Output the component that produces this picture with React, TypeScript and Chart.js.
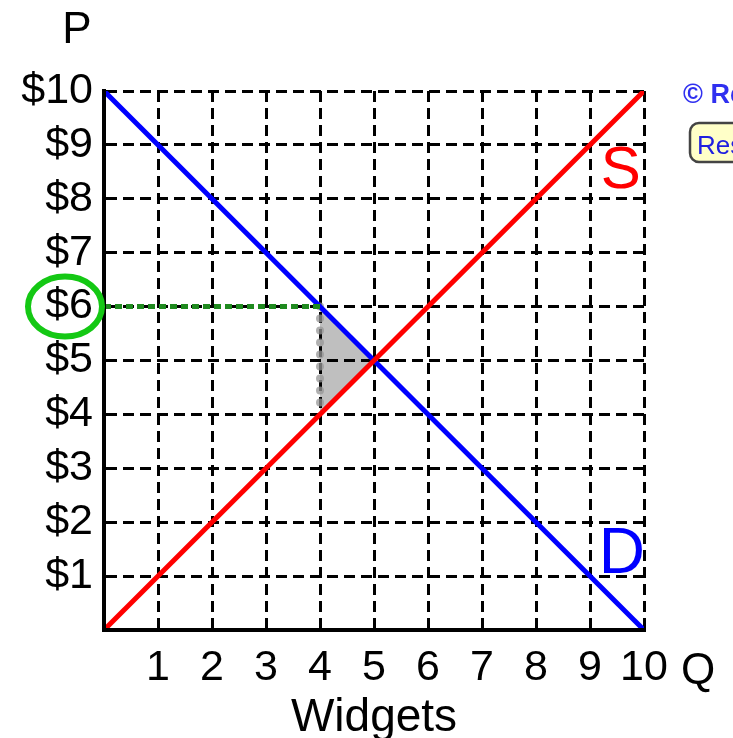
import { useEffect, useRef } from 'react';
import { Chart, registerables } from 'chart.js';

Chart.register(...registerables);

const FONT = '"Liberation Sans", Arial, sans-serif';

// Quantity axis (Widgets) and price axis
const quantityTicks = [0, 1, 2, 3, 4, 5, 6, 7, 8, 9, 10];
const priceTicks = [0, 1, 2, 3, 4, 5, 6, 7, 8, 9, 10];

// Supply curve S
const supplyQ = [0, 10];
const supplyP = [0, 10];

// Demand curve D
const demandQ = [0, 10];
const demandP = [10, 0];

// Dotted price line at $6
const priceLineQ = [0, 4];
const priceLineP = [6, 6];

// Dotted quantity line at Q = 4
const qtyLineQ = [4, 4];
const qtyLineP = [6, 4];

// Deadweight loss triangle
const dwlQ = [4, 5, 4, 4];
const dwlP = [6, 5, 4, 6];

const circledPrice = 6;

const pts = (xs: number[], ys: number[]) => xs.map((x, i) => ({ x, y: ys[i] }));

const annotationPlugin = {
  id: 'annotations',
  afterDraw(chart: any) {
    const { ctx } = chart;
    const x = chart.scales.x;
    const y = chart.scales.y;
    ctx.save();

    // green circle around the $6 label
    const ey = y.getPixelForValue(circledPrice);
    ctx.beginPath();
    ctx.ellipse(x.left - 39, ey, 37, 30, 0, 0, Math.PI * 2);
    ctx.lineWidth = 6;
    ctx.strokeStyle = '#14c814';
    ctx.stroke();

    ctx.textBaseline = 'alphabetic';
    ctx.textAlign = 'center';
    ctx.fillStyle = '#000';
    ctx.font = `44px ${FONT}`;
    ctx.fillText('P', x.left - 27, y.top - 48);
    ctx.fillText('Q', x.right + 54, x.top + 54);

    // curve labels
    ctx.fillStyle = '#ff0000';
    ctx.font = `60px ${FONT}`;
    ctx.fillText('S', x.getPixelForValue(9.57), y.getPixelForValue(8.6) + 22);
    ctx.fillStyle = '#0000ff';
    ctx.font = `64px ${FONT}`;
    ctx.fillText('D', x.getPixelForValue(9.59), y.getPixelForValue(1.5) + 24);

    // copyright text and button
    ctx.textAlign = 'left';
    ctx.fillStyle = '#3030f0';
    ctx.font = `bold 27px ${FONT}`;
    ctx.fillText('\u00a9 Re', x.right + 39, y.top + 12);

    const bx = x.right + 46;
    const by = y.top + 32;
    ctx.beginPath();
    ctx.roundRect(bx, by, 70, 39, 9);
    ctx.fillStyle = '#ffffc8';
    ctx.fill();
    ctx.lineWidth = 2.5;
    ctx.strokeStyle = '#444';
    ctx.stroke();
    ctx.fillStyle = '#2020e0';
    ctx.font = `26px ${FONT}`;
    ctx.fillText('Res', bx + 7, by + 31);

    ctx.restore();
  },
};

export default function App() {
  const ref = useRef<HTMLCanvasElement | null>(null);

  useEffect(() => {
    document.body.style.margin = '0';
    if (!ref.current) return;
    const chart = new Chart(ref.current, {
      type: 'line',
      data: {
        datasets: [
          {
            data: pts(priceLineQ, priceLineP),
            borderColor: '#1f8a1f',
            borderWidth: 5,
            borderDash: [7, 4],
            pointRadius: 0,
            fill: false,
          },
          {
            data: pts(supplyQ, supplyP),
            borderColor: '#ff0000',
            borderWidth: 5,
            pointRadius: 0,
            fill: false,
          },
          {
            data: pts(demandQ, demandP),
            borderColor: '#0000ff',
            borderWidth: 5,
            pointRadius: 0,
            fill: false,
          },
          {
            data: pts(qtyLineQ, qtyLineP),
            borderColor: 'rgba(150,150,150,0.75)',
            borderWidth: 8,
            borderDash: [0, 12],
            borderCapStyle: 'round',
            pointRadius: 0,
            fill: false,
          },
          {
            data: pts(dwlQ, dwlP),
            borderWidth: 0,
            borderColor: 'rgba(0,0,0,0)',
            backgroundColor: 'rgba(0,0,0,0.25)',
            pointRadius: 0,
            fill: 'shape',
          },
        ],
      },
      options: {
        responsive: false,
        animation: false,
        layout: { padding: { top: 91, right: 89, left: 0, bottom: 0 } },
        plugins: { legend: { display: false }, tooltip: { enabled: false } },
        scales: {
          x: {
            type: 'linear',
            min: 0,
            max: 10,
            afterFit: (s: any) => {
              s.height = 108;
            },
            afterBuildTicks: (s: any) => {
              s.ticks = quantityTicks.map((v) => ({ value: v }));
            },
            ticks: {
              padding: 12,
              color: '#000',
              font: { family: FONT, size: 43 },
              maxRotation: 0,
              autoSkip: false,
              callback: (v: any) => (Number(v) === 0 ? '' : String(v)),
            },
            grid: { color: '#000', lineWidth: 3, drawTicks: false },
            border: { display: true, color: '#000', width: 4, dash: [11, 6], z: 1 },
            title: {
              display: true,
              text: 'Widgets',
              color: '#000',
              font: { family: FONT, size: 46, lineHeight: 0.87 },
              padding: 0,
            },
          },
          y: {
            type: 'linear',
            min: 0,
            max: 10,
            afterFit: (s: any) => {
              s.width = 104;
            },
            afterBuildTicks: (s: any) => {
              s.ticks = priceTicks.map((v) => ({ value: v }));
            },
            ticks: {
              padding: 11,
              color: '#000',
              font: { family: FONT, size: 43 },
              autoSkip: false,
              callback: (v: any) => (Number(v) === 0 ? '' : '$' + v),
            },
            grid: { color: '#000', lineWidth: 3, drawTicks: false },
            border: { display: true, color: '#000', width: 4, dash: [11, 6], z: 1 },
          },
        },
      },
      plugins: [annotationPlugin],
    });
    return () => chart.destroy();
  }, []);

  return (
    <div style={{ width: 733, height: 738 }}>
      <canvas ref={ref} width={733} height={738} style={{ display: 'block' }} />
    </div>
  );
}
